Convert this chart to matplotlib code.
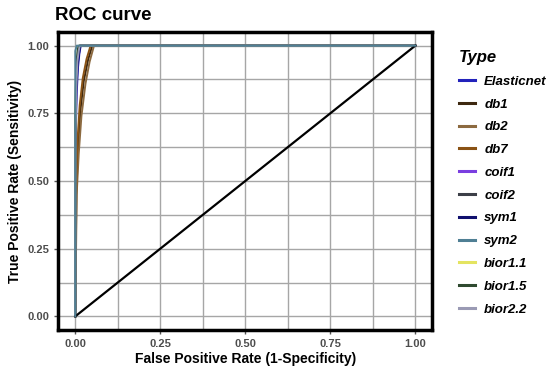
import matplotlib
matplotlib.use("Agg")
import matplotlib.pyplot as plt
from matplotlib.ticker import MultipleLocator

plt.rcParams['font.family'] = ['Liberation Sans', 'DejaVu Sans']

types = ['Elasticnet', 'db1', 'db2', 'db7', 'coif1', 'coif2',
         'sym1', 'sym2', 'bior1.1', 'bior1.5', 'bior2.2']
colors = ['#2222bb', '#3d2810', '#8c6a40', '#8a5214', '#7a3ee0', '#3c3f48',
          '#10106e', '#4f7f94', '#e4e460', '#2f4a30', '#9a9ab4']

# false positive rate / true positive rate
fpr = {
    'Elasticnet': [0, 0.0, 0.004, 0.008, 0.012, 0.016, 1.0],
    'db1': [0, 0.003, 0.008, 0.015, 0.025, 0.038, 0.05, 1.0],
    'db2': [0, 0.004, 0.01, 0.018, 0.03, 0.042, 0.055, 1.0],
    'db7': [0, 0.003, 0.007, 0.013, 0.022, 0.033, 0.045, 1.0],
    'coif1': [0, 0.0, 0.003, 0.006, 0.01, 0.014, 1.0],
    'coif2': [0, 0.0, 0.002, 0.005, 0.009, 0.013, 1.0],
    'sym1': [0, 0.0, 0.003, 0.007, 0.011, 0.015, 1.0],
    'sym2': [0, 0.0, 0.0, 0.002, 0.004, 1.0],
    'bior1.1': [0, 0.0, 0.002, 0.005, 0.008, 0.012, 1.0],
    'bior1.5': [0, 0.0, 0.002, 0.004, 0.008, 0.011, 1.0],
    'bior2.2': [0, 0.0, 0.003, 0.006, 0.01, 0.013, 1.0],
}
tpr = {
    'Elasticnet': [0, 0.6, 0.82, 0.92, 0.97, 1.0, 1.0],
    'db1': [0, 0.45, 0.62, 0.76, 0.87, 0.95, 1.0, 1.0],
    'db2': [0, 0.45, 0.6, 0.74, 0.86, 0.94, 1.0, 1.0],
    'db7': [0, 0.5, 0.66, 0.78, 0.88, 0.95, 1.0, 1.0],
    'coif1': [0, 0.62, 0.84, 0.93, 0.98, 1.0, 1.0],
    'coif2': [0, 0.65, 0.86, 0.94, 0.98, 1.0, 1.0],
    'sym1': [0, 0.6, 0.83, 0.93, 0.97, 1.0, 1.0],
    'sym2': [0, 0.9, 0.98, 0.99, 1.0, 1.0],
    'bior1.1': [0, 0.7, 0.88, 0.95, 0.99, 1.0, 1.0],
    'bior1.5': [0, 0.7, 0.87, 0.95, 0.99, 1.0, 1.0],
    'bior2.2': [0, 0.65, 0.85, 0.94, 0.98, 1.0, 1.0],
}
ticks = [0.0, 0.25, 0.5, 0.75, 1.0]
tick_labels = ['0.00', '0.25', '0.50', '0.75', '1.00']

fig = plt.figure(figsize=(5.5, 3.69), dpi=100)
ax = fig.add_axes([0.106, 0.106, 0.68, 0.807])

for t, c in zip(types, colors):
    z = 3 if t == 'sym2' else 2
    ax.plot(fpr[t], tpr[t], color=c, lw=1.4, label=t, zorder=z)
ax.plot([0, 1], [0, 1], color='black', lw=1.6)

ax.set_xlim(-0.05, 1.05)
ax.set_ylim(-0.05, 1.05)
ax.set_xticks(ticks)
ax.set_xticklabels(tick_labels)
ax.set_yticks(ticks)
ax.set_yticklabels(tick_labels)
ax.xaxis.set_minor_locator(MultipleLocator(0.125))
ax.yaxis.set_minor_locator(MultipleLocator(0.125))
ax.grid(which='major', color='#a6a6a6', lw=1.0)
ax.grid(which='minor', color='#a6a6a6', lw=1.0)
ax.set_axisbelow(True)
ax.tick_params(which='minor', length=0)
ax.tick_params(which='major', length=3, color='#555555', width=1,
               labelsize=8, labelcolor='#4d4d4d')
for lab in ax.get_xticklabels() + ax.get_yticklabels():
    lab.set_fontweight('bold')
for s in ax.spines.values():
    s.set_linewidth(2.5)
    s.set_color('black')

ax.set_xlabel('False Positive Rate (1-Specificity)', fontsize=10,
              fontweight='bold', labelpad=2)
ax.set_ylabel('True Positive Rate (Sensitivity)', fontsize=10,
              fontweight='bold', labelpad=4)
ax.set_title('ROC curve', fontsize=13.5, fontweight='bold', loc='left',
             x=-0.01, pad=9)

leg = ax.legend(loc='upper left', bbox_to_anchor=(1.04, 0.98), frameon=False,
                title='Type', handlelength=1.2, handletextpad=0.7,
                labelspacing=0.8,
                prop={'weight': 'bold', 'style': 'italic', 'size': 9.5})
leg.get_title().set_fontweight('bold')
leg.get_title().set_fontstyle('italic')
leg.get_title().set_fontsize(12)
leg._legend_box.align = 'left'
for line in leg.get_lines():
    line.set_linewidth(2.2)

fig.savefig('out.png', dpi=100)
